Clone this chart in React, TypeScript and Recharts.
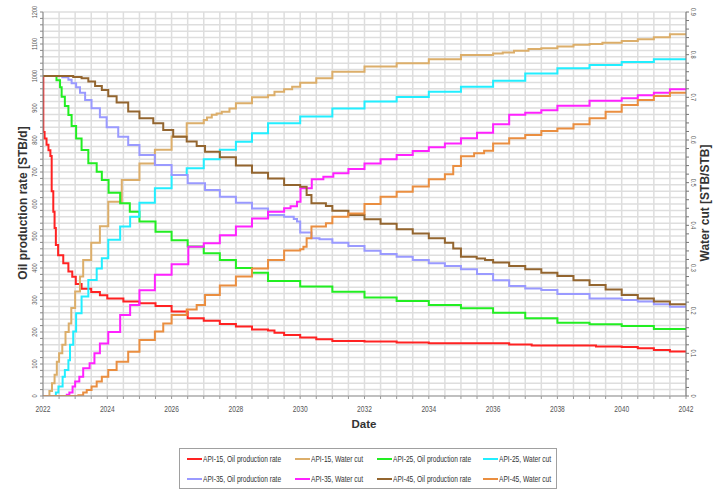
import { CartesianGrid, Label, Legend, Line, LineChart, XAxis, YAxis } from "recharts";

type Pt = [number, number];

// Oil production rate [STB/d] per well, step changes (year, rate)
const api15Oil: Pt[] = [
  [2022, 1000], [2022.01, 825], [2022.05, 805], [2022.11, 785], [2022.17, 768],
  [2022.23, 750], [2022.27, 640], [2022.32, 576], [2022.36, 525], [2022.4, 472],
  [2022.47, 440], [2022.63, 415], [2022.79, 389], [2022.91, 373], [2023.02, 350],
  [2023.2, 335], [2023.5, 325], [2023.77, 315], [2024, 305], [2024.5, 295],
  [2025, 290], [2025.5, 281], [2026, 264], [2026.5, 243], [2027, 235],
  [2027.5, 225], [2028, 217], [2028.5, 208], [2029, 205], [2029.2, 198],
  [2029.5, 191], [2030, 183], [2030.5, 177], [2031, 172], [2032, 170],
  [2033, 167], [2034, 165], [2036.5, 161], [2037.2, 158], [2039.2, 155],
  [2040, 153], [2040.5, 149], [2041, 144], [2041.5, 139], [2042, 139],
];

const api25Oil: Pt[] = [
  [2022, 1000], [2022.42, 987], [2022.53, 965], [2022.58, 935], [2022.68, 906],
  [2022.79, 878], [2022.89, 844], [2023.03, 805], [2023.2, 769], [2023.41, 727],
  [2023.67, 701], [2023.83, 675], [2024.04, 635], [2024.4, 602], [2024.7, 576],
  [2025, 545], [2025.5, 513], [2026, 487], [2026.5, 467], [2027, 446],
  [2027.5, 425], [2028, 400], [2028.5, 385], [2029, 359], [2030, 342],
  [2031, 326], [2032, 308], [2033, 297], [2034, 284], [2035, 274],
  [2036, 260], [2037, 243], [2038, 229], [2039, 224], [2040, 219],
  [2041, 209], [2042, 209],
];

const api35Oil: Pt[] = [
  [2022, 1000], [2022.6, 996], [2022.79, 988], [2022.89, 977], [2023.03, 965],
  [2023.15, 948], [2023.31, 925], [2023.51, 899], [2023.77, 871], [2023.98, 840],
  [2024.34, 810], [2024.65, 784], [2025, 753], [2025.48, 722], [2026, 691],
  [2026.5, 665], [2027.04, 644], [2027.5, 623], [2028, 604], [2028.5, 586],
  [2029, 566], [2029.5, 560], [2029.8, 553], [2029.9, 545], [2030, 511],
  [2030.35, 493], [2030.6, 490], [2031, 479], [2031.5, 469], [2032, 454],
  [2032.5, 444], [2033, 435], [2033.5, 425], [2034, 415], [2034.5, 406],
  [2035, 396], [2035.5, 381], [2036, 362], [2036.5, 344], [2037, 336],
  [2037.5, 331], [2038, 319], [2039, 305], [2040, 300], [2040.5, 295],
  [2041, 287], [2041.5, 279], [2042, 279],
];

const api45Oil: Pt[] = [
  [2022, 1000], [2022.94, 997], [2023.2, 993], [2023.41, 983], [2023.62, 969],
  [2023.83, 956], [2024.03, 937], [2024.29, 917], [2024.65, 889], [2025, 868],
  [2025.43, 852], [2025.74, 831], [2026.05, 810], [2026.47, 795], [2026.78, 781],
  [2027.04, 763], [2027.5, 746], [2028, 720], [2028.5, 698], [2029, 680],
  [2029.5, 659], [2030, 654], [2030.2, 628], [2030.35, 602], [2030.8, 594],
  [2031, 579], [2031.5, 566], [2032, 552], [2032.5, 538], [2033, 521],
  [2033.5, 508], [2034, 493], [2034.5, 479], [2034.76, 461], [2035, 435],
  [2035.49, 430], [2035.75, 425], [2036, 417], [2036.5, 406], [2037, 396],
  [2037.5, 385], [2038, 375], [2038.5, 362], [2039, 347], [2039.5, 333],
  [2040, 316], [2040.5, 305], [2041, 295], [2041.5, 287], [2042, 287],
];

// Water cut [STB/STB] per well (year, fraction)
const api15Cut: Pt[] = [
  [2022, 0], [2022.2, 0.012], [2022.28, 0.03], [2022.36, 0.05], [2022.43, 0.08],
  [2022.5, 0.1], [2022.6, 0.12], [2022.7, 0.15], [2022.8, 0.17], [2022.88, 0.206],
  [2023, 0.245], [2023.15, 0.28], [2023.25, 0.319], [2023.5, 0.359], [2023.77, 0.398],
  [2024.03, 0.455], [2024.45, 0.506], [2025, 0.545], [2025.48, 0.577], [2026, 0.608],
  [2026.47, 0.639], [2027, 0.647], [2027.1, 0.653], [2027.25, 0.659], [2027.4, 0.662],
  [2027.56, 0.666], [2027.8, 0.674], [2028, 0.686], [2028.5, 0.7], [2029, 0.705],
  [2029.2, 0.713], [2029.5, 0.719], [2029.75, 0.725], [2030, 0.734], [2030.5, 0.745],
  [2031, 0.76], [2032, 0.772], [2033, 0.78], [2034, 0.789], [2035, 0.799],
  [2036, 0.803], [2036.3, 0.805], [2036.65, 0.809], [2037.1, 0.813], [2037.5, 0.815],
  [2038, 0.819], [2038.5, 0.823], [2039, 0.825], [2039.4, 0.828], [2040, 0.832],
  [2040.5, 0.836], [2041, 0.841], [2041.5, 0.848], [2042, 0.848],
];

const api25Cut: Pt[] = [
  [2022, 0], [2022.4, 0.008], [2022.48, 0.022], [2022.61, 0.045], [2022.68, 0.061],
  [2022.79, 0.084], [2022.84, 0.12], [2022.94, 0.151], [2023.03, 0.194], [2023.2, 0.233],
  [2023.41, 0.272], [2023.67, 0.299], [2023.83, 0.323], [2024.03, 0.366], [2024.4, 0.397],
  [2024.71, 0.42], [2025, 0.453], [2025.48, 0.487], [2026, 0.518], [2026.47, 0.534],
  [2027, 0.555], [2027.5, 0.577], [2028, 0.596], [2028.5, 0.616], [2029, 0.639],
  [2030, 0.655], [2031, 0.674], [2032, 0.69], [2033, 0.701], [2034, 0.713],
  [2035, 0.725], [2036, 0.739], [2037, 0.756], [2038, 0.768], [2039, 0.776],
  [2040, 0.783], [2041, 0.789], [2042, 0.789],
];

const api35Cut: Pt[] = [
  [2022, 0], [2022.74, 0.003], [2022.82, 0.008], [2022.92, 0.022], [2023, 0.034],
  [2023.13, 0.045], [2023.25, 0.065], [2023.45, 0.077], [2023.6, 0.1], [2023.77, 0.123],
  [2024.03, 0.15], [2024.4, 0.19], [2024.71, 0.213], [2025, 0.248], [2025.48, 0.284],
  [2026, 0.309], [2026.52, 0.35], [2027, 0.358], [2027.5, 0.377], [2028, 0.397],
  [2028.5, 0.416], [2029, 0.432], [2029.5, 0.44], [2029.7, 0.445], [2029.9, 0.455],
  [2030.01, 0.487], [2030.36, 0.508], [2030.72, 0.514], [2031.03, 0.522], [2031.5, 0.532],
  [2032, 0.545], [2032.5, 0.555], [2033, 0.565], [2033.5, 0.574], [2034, 0.583],
  [2034.5, 0.592], [2035, 0.604], [2035.5, 0.617], [2036, 0.637], [2036.5, 0.659],
  [2037, 0.664], [2037.5, 0.67], [2038, 0.68], [2039, 0.692], [2040, 0.698],
  [2040.5, 0.705], [2041, 0.711], [2041.5, 0.719], [2042, 0.719],
];

const api45Cut: Pt[] = [
  [2022, 0], [2023.1, 0.002], [2023.25, 0.008], [2023.36, 0.014], [2023.51, 0.022],
  [2023.67, 0.034], [2023.83, 0.045], [2024.03, 0.061], [2024.29, 0.08], [2024.65, 0.104],
  [2025, 0.131], [2025.48, 0.151], [2025.74, 0.17], [2026, 0.19], [2026.47, 0.203],
  [2026.78, 0.213], [2027.04, 0.237], [2027.5, 0.259], [2028, 0.28], [2028.5, 0.299],
  [2029, 0.319], [2029.5, 0.341], [2030, 0.344], [2030.1, 0.35], [2030.2, 0.37],
  [2030.35, 0.397], [2030.8, 0.405], [2031, 0.42], [2031.5, 0.428], [2032, 0.45],
  [2032.5, 0.467], [2033, 0.479], [2033.5, 0.491], [2034, 0.508], [2034.5, 0.52],
  [2034.76, 0.539], [2035, 0.562], [2035.41, 0.569], [2035.72, 0.575], [2036, 0.592],
  [2036.5, 0.604], [2037, 0.612], [2037.5, 0.621], [2038, 0.627], [2038.5, 0.637],
  [2039, 0.651], [2039.5, 0.666], [2040, 0.682], [2040.5, 0.694], [2041, 0.703],
  [2041.5, 0.711], [2042, 0.711],
];

// labelled ticks
const yearLabels = [2022, 2024, 2026, 2028, 2030, 2032, 2034, 2036, 2038, 2040, 2042];
const rateLabels = [0, 100, 200, 300, 400, 500, 600, 700, 800, 900, 1000, 1100, 1200];
const cutLabels = [0, 0.1, 0.2, 0.3, 0.4, 0.5, 0.6, 0.7, 0.8, 0.9];

// minor ticks / grid positions
const halfYears = Array.from({ length: 41 }, (_, i) => 2022 + i * 0.5);
const rateTicks = Array.from({ length: 61 }, (_, i) => i * 20);
const cutTicks = Array.from({ length: 46 }, (_, i) => Math.round(i * 2) / 100);

const series = [
  { name: "API-15, Oil production rate", pts: api15Oil, color: "#ff2222", axis: "rate" },
  { name: "API-15, Water cut", pts: api15Cut, color: "#dcae6a", axis: "cut" },
  { name: "API-25, Oil production rate", pts: api25Oil, color: "#22ee22", axis: "rate" },
  { name: "API-25, Water cut", pts: api25Cut, color: "#22eeff", axis: "cut" },
  { name: "API-35, Oil production rate", pts: api35Oil, color: "#9a9aff", axis: "rate" },
  { name: "API-35, Water cut", pts: api35Cut, color: "#ff22ff", axis: "cut" },
  { name: "API-45, Oil production rate", pts: api45Oil, color: "#93652f", axis: "rate" },
  { name: "API-45, Water cut", pts: api45Cut, color: "#ea8e40", axis: "cut" },
];

const FONT = "'Liberation Sans', Arial, sans-serif";

const toRows = (pts: Pt[]) => pts.map(([t, v]) => ({ t, v }));

function YearTick({ x, y, payload }: any) {
  if (!yearLabels.includes(payload.value)) return null;
  return (
    <text
      transform={`translate(${x} ${y + 11}) scale(0.7 1)`}
      textAnchor="middle"
      fontSize={9.5}
      fontFamily={FONT}
      fill="#555"
    >
      {payload.value}
    </text>
  );
}

function RateTick({ x, y, payload }: any) {
  if (!rateLabels.includes(payload.value)) return null;
  return (
    <text
      transform={`translate(${x - 1} ${y}) rotate(-90) scale(0.75 1)`}
      textAnchor="middle"
      fontSize={7.5}
      fontFamily={FONT}
      fill="#555"
    >
      {payload.value}
    </text>
  );
}

function CutTick({ x, y, payload }: any) {
  const v = payload.value;
  if (!cutLabels.some((c) => Math.abs(c - v) < 1e-6)) return null;
  return (
    <text
      transform={`translate(${x} ${y}) rotate(90) scale(0.75 1)`}
      textAnchor="middle"
      fontSize={7.5}
      fontFamily={FONT}
      fill="#555"
    >
      {v === 0 ? "0" : v.toFixed(1)}
    </text>
  );
}

const titleStyle = { fontFamily: FONT, fontSize: 12, fontWeight: 700, fill: "#333" };

const RateTitle = () => (
  <text transform="translate(23 203) rotate(-90)" textAnchor="middle" dominantBaseline="central" style={titleStyle}>
    Oil production rate [STB/d]
  </text>
);

const CutTitle = () => (
  <text transform="translate(705 203) rotate(-90)" textAnchor="middle" dominantBaseline="central" style={titleStyle}>
    Water cut [STB/STB]
  </text>
);

const DateTitle = () => (
  <text x={364} y={428} textAnchor="middle" style={{ ...titleStyle, fontSize: 11.5 }}>
    Date
  </text>
);

const legendCols = [7, 115, 197, 303];

function LegendBox() {
  return (
    <div
      style={{
        position: "relative",
        width: 378,
        height: 41,
        border: "1px solid #a0a0a0",
        boxSizing: "border-box",
        background: "#fff",
      }}
    >
      {series.map((s, i) => (
        <div
          key={s.name}
          style={{
            position: "absolute",
            left: legendCols[i % 4],
            top: i < 4 ? 4 : 24,
            height: 12,
            display: "flex",
            alignItems: "center",
            whiteSpace: "nowrap",
          }}
        >
          <span style={{ width: 15, borderTop: `2px solid ${s.color}` }} />
          <span
            style={{
              marginLeft: 1,
              fontFamily: FONT,
              fontSize: 8.5,
              color: "#333",
              transform: "scaleX(0.78)",
              transformOrigin: "left center",
            }}
          >
            {s.name}
          </span>
        </div>
      ))}
    </div>
  );
}

export default function App() {
  return (
    <div style={{ position: "absolute", left: 0, top: 0, width: 723, height: 490, background: "#fff" }}>
      <LineChart width={723} height={490} margin={{ top: 12, right: 0, bottom: 54, left: 0 }}>
        <CartesianGrid yAxisId="rate" stroke="#dedede" strokeWidth={1.5} />
        <XAxis
          dataKey="t"
          type="number"
          domain={[2022, 2042]}
          ticks={halfYears}
          interval={0}
          height={40}
          tickSize={3}
          stroke="#999"
          tick={<YearTick />}
          allowDataOverflow
          label={<Label content={<DateTitle />} />}
        />
        <YAxis
          yAxisId="rate"
          domain={[0, 1200]}
          ticks={rateTicks}
          interval={0}
          width={43}
          tickSize={3}
          stroke="#888"
          tick={<RateTick />}
          allowDataOverflow
          label={<Label content={<RateTitle />} />}
        />
        <YAxis
          yAxisId="cut"
          orientation="right"
          domain={[0, 0.9]}
          ticks={cutTicks}
          interval={0}
          width={37}
          tickSize={3}
          stroke="#777"
          tick={<CutTick />}
          allowDataOverflow
          label={<Label content={<CutTitle />} />}
        />
        {series.map((s) => (
          <Line
            key={s.name}
            yAxisId={s.axis}
            data={toRows(s.pts)}
            dataKey="v"
            name={s.name}
            type="stepAfter"
            stroke={s.color}
            strokeWidth={2}
            dot={false}
            activeDot={false}
            isAnimationActive={false}
          />
        ))}
        <Legend
          layout="vertical"
          align="center"
          verticalAlign="middle"
          wrapperStyle={{ left: 179, top: 448, width: 378, height: 41 }}
          content={() => <LegendBox />}
        />
      </LineChart>
    </div>
  );
}
